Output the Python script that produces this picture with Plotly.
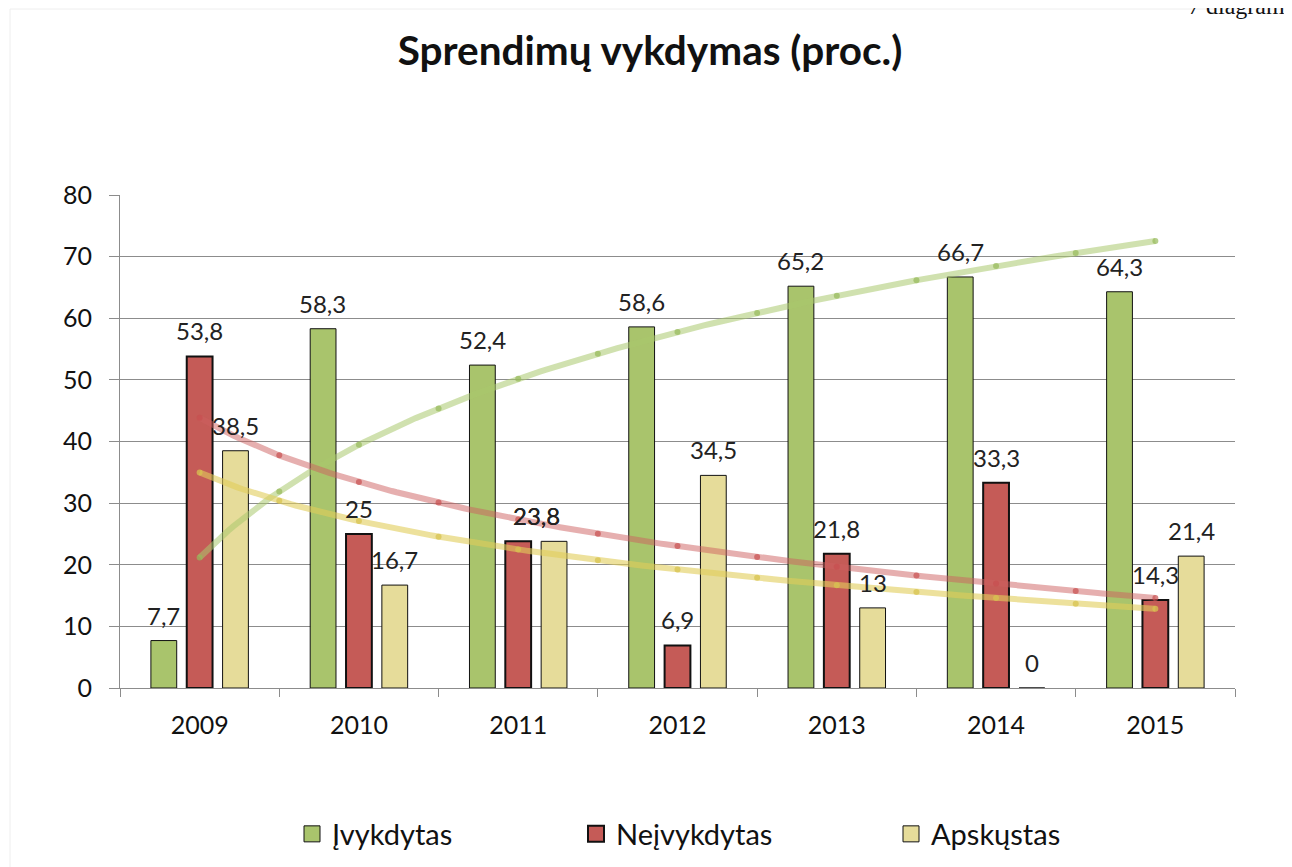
import numpy as np
import plotly.graph_objects as go

years = ["2009", "2010", "2011", "2012", "2013", "2014", "2015"]
ivykdytas = [7.7, 58.3, 52.4, 58.6, 65.2, 66.7, 64.3]
neivykdytas = [53.8, 25, 23.8, 6.9, 21.8, 33.3, 14.3]
apskustas = [38.5, 16.7, 23.8, 34.5, 13, 0, 21.4]
series_names = ["Įvykdytas", "Neįvykdytas", "Apskųstas"]
y_ticks = [0, 10, 20, 30, 40, 50, 60, 70, 80]

bar_colors = ["#A9C46C", "#C55B57", "#E6DC9A"]
trend_colors = ["rgba(170,200,110,0.55)", "rgba(205,95,95,0.5)", "rgba(225,205,90,0.6)"]
marker_colors = ["rgba(150,185,90,0.7)", "rgba(200,80,80,0.7)", "rgba(215,195,80,0.75)"]
border_w = [1, 2, 1]

FONT = "Lato"

# the page body has an 8px margin: work in window pixels and convert
OFF = 8
W, H = 1292 - OFF, 867 - OFF
L, R, T, B = 120 - OFF, 1235 - OFF, 195 - OFF, 688 - OFF
BAR_PITCH = 36  # px between neighbouring bars of a group


def px_x(p):
    return (p - OFF - L) / (R - L)


def px_y(p):
    return (B - (p - OFF)) / (B - T)


def fmt(v):
    return f"{v:g}".replace(".", ",")


fig = go.Figure()
data = [ivykdytas, neivykdytas, apskustas]
for name, vals, col, bw in zip(series_names, data, bar_colors, border_w):
    fig.add_trace(go.Bar(
        x=years, y=vals, name=name, showlegend=False,
        marker=dict(color=col, line=dict(color="#111111", width=bw)),
    ))

# logarithmic trendlines (least squares fit on ln(index))
idx = np.arange(1, len(years) + 1)
xs = np.linspace(1, len(years), 200)
xs_m = np.arange(1, len(years) + 0.01, 0.5)
for vals, tc, mc in zip(data, trend_colors, marker_colors):
    b, a = np.polyfit(np.log(idx), np.array(vals, dtype=float), 1)
    fig.add_trace(go.Scatter(
        x=xs - 1, y=a + b * np.log(xs), mode="lines",
        line=dict(color=tc, width=6), xaxis="x2", showlegend=False, hoverinfo="skip",
    ))
    fig.add_trace(go.Scatter(
        x=xs_m - 1, y=a + b * np.log(xs_m), mode="markers",
        marker=dict(color=mc, size=6), xaxis="x2", showlegend=False, hoverinfo="skip",
    ))

# legend entries (one legend per entry so that they can be placed like the original)
legend_names = ["legend", "legend2", "legend3"]
legend_x = [292, 576, 891]
for name, col, bw, lg in zip(series_names, bar_colors, border_w, legend_names):
    fig.add_trace(go.Scatter(
        x=[None], y=[None], mode="markers", name=name, legend=lg, showlegend=True,
        marker=dict(symbol="square", size=16, color=col, line=dict(color="#111111", width=bw)),
    ))

# data labels (x given as category index); equal neighbouring values share one spot
annotations = []
for k, vals in enumerate(data):
    for i, v in enumerate(vals):
        shift = (k - 1) * BAR_PITCH
        if k + 1 < len(data) and data[k + 1][i] == v:
            shift += BAR_PITCH / 2
        elif k > 0 and data[k - 1][i] == v:
            shift -= BAR_PITCH / 2
        annotations.append(dict(
            x=i, y=v, xref="x", yref="y", text=fmt(v), showarrow=False,
            xanchor="center", yanchor="bottom", xshift=shift, yshift=9,
            font=dict(family=FONT, size=24, color="#222222"),
        ))
annotations.append(dict(
    text="7 diagram", xref="paper", yref="paper", x=px_x(1186), xanchor="left",
    y=px_y(21), yanchor="bottom", showarrow=False,
    font=dict(family="Liberation Serif", size=24, color="#111111"),
))

legend_common = dict(orientation="h", yanchor="middle", y=px_y(834), xanchor="left",
                     font=dict(family=FONT, size=29, color="#111111"),
                     bgcolor="rgba(0,0,0,0)", itemwidth=30)

fig.update_layout(
    width=W, height=H,
    margin=dict(l=L, r=W - R, t=T, b=H - B, autoexpand=False),
    paper_bgcolor="white", plot_bgcolor="white",
    barmode="group", bargap=0.325, bargroupgap=0.28,
    title=dict(text="<b>Sprendimų vykdymas (proc.)</b>", x=0.5, xanchor="center",
               y=1 - (51 - OFF) / H, yanchor="middle",
               font=dict(family=FONT, size=40.5, color="#111111")),
    font=dict(family=FONT, color="#111111"),
    xaxis=dict(
        type="category", range=[-0.5, 6.5],
        showline=True, linecolor="#8c8c8c", linewidth=1,
        ticks="outside", tickson="boundaries", ticklen=8, tickcolor="#8c8c8c",
        showgrid=False, tickfont=dict(family=FONT, size=25, color="#111111"),
        ticklabelstandoff=15,
    ),
    xaxis2=dict(overlaying="x", range=[-0.5, 6.5], visible=False),
    yaxis=dict(
        range=[0, 80], tickvals=y_ticks,
        showline=True, linecolor="#8c8c8c", linewidth=1,
        ticks="outside", ticklen=10, tickcolor="#8c8c8c",
        showgrid=True, gridcolor="#8c8c8c", gridwidth=1, zeroline=False,
        tickfont=dict(family=FONT, size=25, color="#111111"), ticklabelstandoff=12,
    ),
    legend=dict(x=px_x(legend_x[0]), **legend_common),
    legend2=dict(x=px_x(legend_x[1]), **legend_common),
    legend3=dict(x=px_x(legend_x[2]), **legend_common),
    shapes=[dict(type="rect", xref="paper", yref="paper",
                 x0=px_x(10), x1=px_x(1300), y0=px_y(880), y1=px_y(9),
                 line=dict(color="#eeeeee", width=1), fillcolor="rgba(0,0,0,0)", layer="below")],
    annotations=annotations,
)

fig.write_html("out.html")
